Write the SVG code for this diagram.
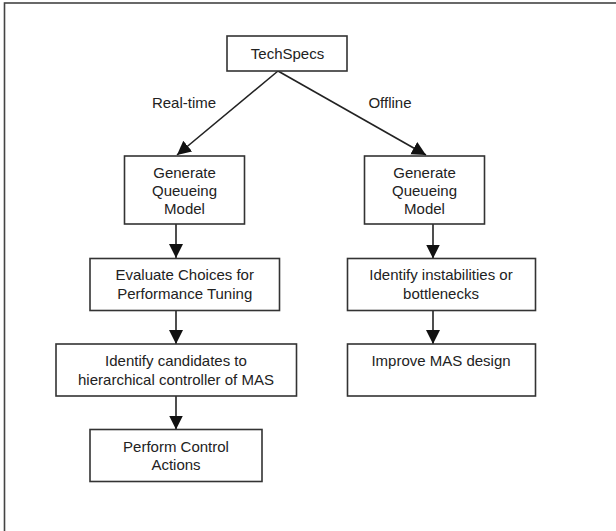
<svg xmlns="http://www.w3.org/2000/svg" width="616" height="531" viewBox="0 0 616 531">
<style>
.box{fill:#fff;stroke:#333;stroke-width:1.6}
.t{font-family:"Liberation Sans",Arial,sans-serif;font-size:15px;fill:#222;text-anchor:middle}
.c{fill:none;stroke:#222;stroke-width:1.6}
</style>
<defs>
<marker id="ah" markerUnits="userSpaceOnUse" markerWidth="15" markerHeight="15" refX="14" refY="7" orient="auto">
<path d="M0,0 L14,7 L0,14 z" fill="#111"/>
</marker>
</defs>
<rect x="4.5" y="3" width="640" height="560" fill="#fff" stroke="#444" stroke-width="1.6"/>
<g id="connectors">
<line class="c" x1="278" y1="71" x2="177" y2="155" marker-end="url(#ah)"/>
<line class="c" x1="278" y1="71" x2="426" y2="155" marker-end="url(#ah)"/>
<line class="c" x1="176" y1="224" x2="176" y2="258" marker-end="url(#ah)"/>
<line class="c" x1="176" y1="310.5" x2="176" y2="344" marker-end="url(#ah)"/>
<line class="c" x1="176" y1="396" x2="176" y2="429.5" marker-end="url(#ah)"/>
<line class="c" x1="433" y1="224" x2="433" y2="258.5" marker-end="url(#ah)"/>
<line class="c" x1="433" y1="310.5" x2="433" y2="344" marker-end="url(#ah)"/>
<text class="t" x="184" y="108">Real-time</text>
<text class="t" x="390" y="108">Offline</text>
</g>
<g id="techspecs">
<rect class="box" x="227" y="36" width="120" height="35"/>
<text class="t" x="287.5" y="59">TechSpecs</text>
</g>
<g id="gen-left">
<rect class="box" x="124.5" y="156" width="120" height="68"/>
<text class="t" x="184.5" y="178">Generate</text>
<text class="t" x="184.5" y="196">Queueing</text>
<text class="t" x="184.5" y="214">Model</text>
</g>
<g id="gen-right">
<rect class="box" x="364.5" y="156" width="120" height="68"/>
<text class="t" x="424.5" y="178">Generate</text>
<text class="t" x="424.5" y="196">Queueing</text>
<text class="t" x="424.5" y="214">Model</text>
</g>
<g id="evaluate">
<rect class="box" x="90" y="258.5" width="189.5" height="52"/>
<text class="t" x="184.7" y="280">Evaluate Choices for</text>
<text class="t" x="184.7" y="298.5">Performance Tuning</text>
</g>
<g id="instabilities">
<rect class="box" x="347.5" y="258.5" width="188" height="52"/>
<text class="t" x="441" y="280">Identify instabilities or</text>
<text class="t" x="441" y="298.5">bottlenecks</text>
</g>
<g id="candidates">
<rect class="box" x="56" y="344" width="240.5" height="52"/>
<text class="t" x="176" y="366">Identify candidates to</text>
<text class="t" x="176" y="384.5">hierarchical controller of MAS</text>
</g>
<g id="improve">
<rect class="box" x="347.5" y="344" width="188" height="52"/>
<text class="t" x="441" y="366">Improve MAS design</text>
</g>
<g id="perform">
<rect class="box" x="90" y="429.5" width="172" height="52"/>
<text class="t" x="176" y="451.5">Perform Control</text>
<text class="t" x="176" y="469.5">Actions</text>
</g>
</svg>
